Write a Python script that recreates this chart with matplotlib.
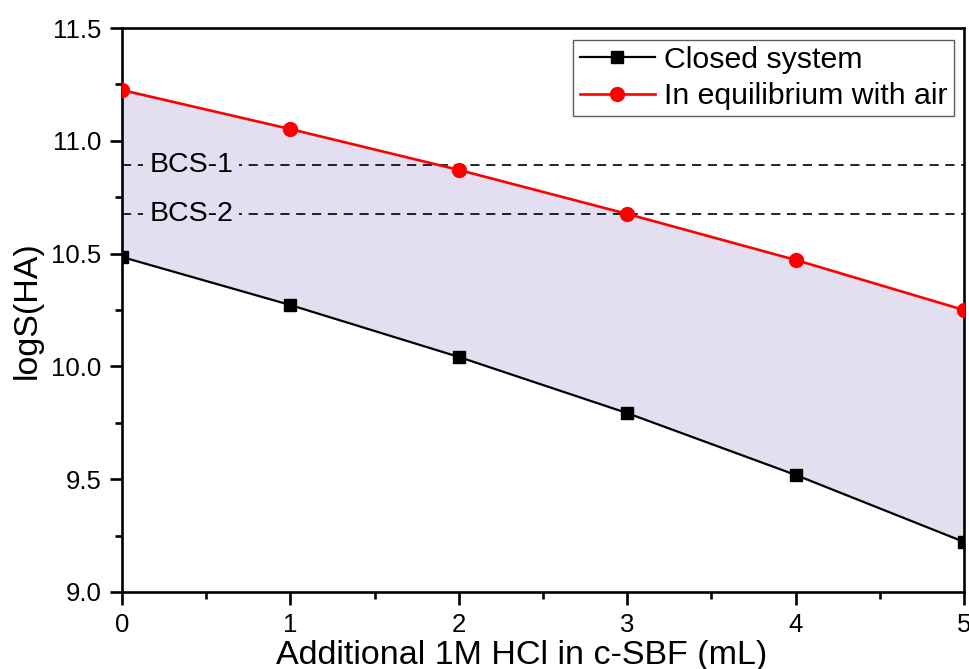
import matplotlib
matplotlib.use("Agg")
import matplotlib.pyplot as plt
from matplotlib.ticker import MultipleLocator

plt.rcParams['font.family'] = ['Liberation Sans', 'DejaVu Sans']

x_ml = [0, 1, 2, 3, 4, 5]
closed_system = [10.485, 10.272, 10.042, 9.793, 9.519, 9.222]
equilibrium_air = [11.225, 11.052, 10.871, 10.676, 10.472, 10.25]
bcs_levels = [10.893, 10.676]
bcs_labels = ["BCS-1", "BCS-2"]

fill_color = "#E3DFF0"

fig = plt.figure(figsize=(9.7, 6.69), dpi=100)
ax = fig.add_axes([0.1258, 0.1151, 0.8680, 0.8430])

ax.fill_between(x_ml, closed_system, equilibrium_air, color=fill_color, lw=0, zorder=1)

for lvl, lab in zip(bcs_levels, bcs_labels):
    ax.axhline(lvl, color="black", lw=1.2, dashes=(5.5, 4), zorder=2)
    ax.text(0.41, lvl, lab, fontsize=20.5, ha="center", va="center", zorder=3,
            bbox=dict(facecolor=fill_color, edgecolor="none", pad=4))

ax.plot(x_ml, closed_system, color="black", lw=1.6, marker="s", markersize=9,
        label="Closed system", zorder=4)
ax.plot(x_ml, equilibrium_air, color="red", lw=1.9, marker="o", markersize=10,
        label="In equilibrium with air", zorder=5)

ax.set_xlim(0, 5)
ax.set_ylim(9.0, 11.5)
ax.xaxis.set_major_locator(MultipleLocator(1))
ax.xaxis.set_minor_locator(MultipleLocator(0.5))
ax.yaxis.set_major_locator(MultipleLocator(0.5))
ax.yaxis.set_minor_locator(MultipleLocator(0.25))
ax.yaxis.set_major_formatter(matplotlib.ticker.FormatStrFormatter('%.1f'))

for s in ax.spines.values():
    s.set_linewidth(1.9)

ax.tick_params(which="major", direction="out", length=9, width=1.9, labelsize=18.5, pad=6)
ax.tick_params(which="minor", direction="out", length=5, width=1.9)
ax.tick_params(top=False, right=False, which="both")

ax.set_xlabel("Additional 1M HCl in c-SBF (mL)", fontsize=24.5, va="center")
ax.xaxis.set_label_coords(0.475, -0.112)
ax.set_ylabel("logS(HA)", fontsize=24.5, va="center", ha="center")
ax.yaxis.set_label_coords(-0.113, 0.5)

leg = ax.legend(loc="upper right", bbox_to_anchor=(0.988, 0.979), borderaxespad=0,
                fontsize=21.8, frameon=True, fancybox=False, handlelength=2.5,
                handletextpad=0.3, labelspacing=0.28, borderpad=0.2)
leg.get_frame().set_edgecolor("#333333")
leg.get_frame().set_linewidth(1.0)

fig.savefig("out.png", dpi=100)
